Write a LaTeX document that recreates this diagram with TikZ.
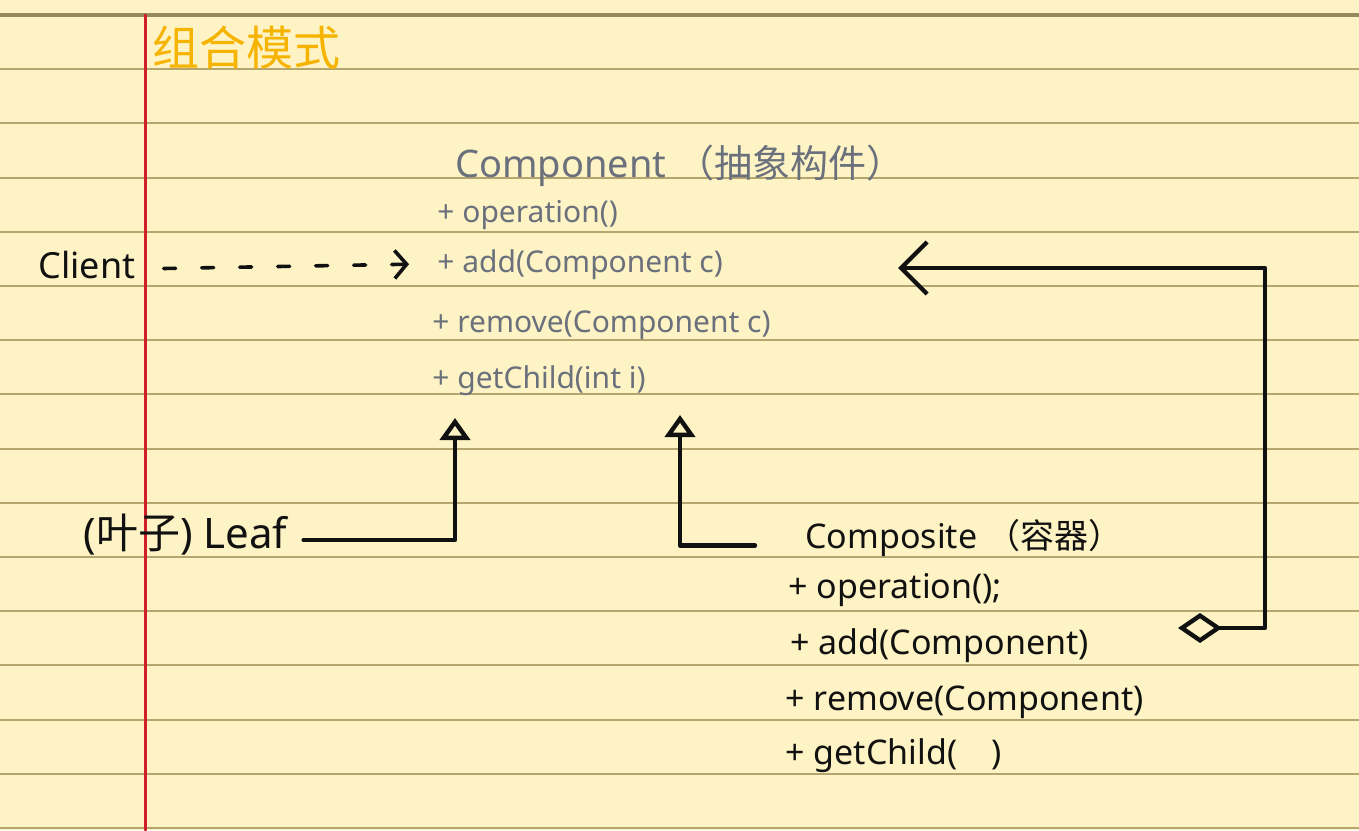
\documentclass[tikz,border=0pt]{standalone}
\usepackage{fontspec}
\setmainfont{Noto Sans}
\newfontfamily\cjk{Noto Sans CJK SC}
\usepackage{xcolor}
\usetikzlibrary{arrows.meta,positioning,calc}
\definecolor{paper}{HTML}{FEF3C4}
\definecolor{ruling}{HTML}{B5A56F}
\definecolor{topruling}{HTML}{958B5F}
\definecolor{margin}{HTML}{D01F28}
\definecolor{ink}{HTML}{111111}
\definecolor{pencil}{HTML}{6A707C}
\definecolor{marker}{HTML}{F6B300}

\begin{document}
\begin{tikzpicture}[x=0.5pt,y=-0.5pt,>=Latex,line cap=round,line join=round]
  \tikzstyle{txt}=[inner sep=0pt,anchor=base west]
  \tikzstyle{op}=[txt,text=pencil,font=\fontsize{15}{17}\selectfont]
  \tikzstyle{kop}=[txt,text=ink,font=\fontsize{17}{19}\selectfont]
  \tikzstyle{link}=[draw=ink,line width=2.2pt]
  \tikzstyle{gen}=[link,-{Triangle[open,length=11pt,width=15pt]}]
  \tikzstyle{aggr}=[link,{Diamond[open,length=22pt,width=15pt]}-{Straight Barb[length=13pt,width=26pt]}]
  % paper
  \fill[paper] (0,0) rectangle (1359,830);
  \useasboundingbox (0,0) rectangle (1359,830);
  \foreach \k in {1,...,15}
    \draw[ruling,line width=1pt] (0,{15+54.2*\k}) -- (1359,{15+54.2*\k});
  \draw[topruling,line width=1.6pt] (0,15) -- (1359,15);
  \draw[margin,line width=1.5pt] (145,15) -- (145,830);
  % title
  \node[txt,text=marker,font=\cjk\fontsize{23.5}{25}\selectfont] (title) at (152,65) {组合模式};
  % abstract component
  \node[txt,text=pencil,font=\fontsize{19}{21}\selectfont] (comp) at (455,177) {Component {\cjk（抽象构件）}};
  \node[op] (cop) at (437,222) {+ operation()};
  \node[op] (cadd) at (437,272) {+ add(Component c)};
  \node[op] (crem) at (432,332) {+ remove(Component c)};
  \node[op] (cget) at (432,388) {+ getChild(int i)};
  % client
  \node[txt,text=ink,font=\fontsize{18}{20}\selectfont] (client) at (38,278) {Client};
  % leaf
  \node[txt,text=ink,font=\fontsize{21}{23}\selectfont] (leaf) at (83,548) {({\cjk 叶子}) Leaf};
  % composite
  \node[kop] (composite) at (805,548) {Composite {\cjk（容器）}};
  \node[kop] (kop) at (788,598) {+ operation();};
  \node[kop] (kadd) at (790,654) {+ add(Component)};
  \node[kop] (krem) at (785,710) {+ remove(Component)};
  \node[kop] (kget) at (785,764) {+ getChild(\quad)};
  % connectors
  \coordinate (tri1) at (455,418);
  \coordinate (tri2) at (680,415);
  \coordinate (agg) at (1178,628);
  \coordinate (ctarget) at (898,268);
  \draw[link,line width=1.8pt,dash pattern=on 6pt off 13pt,-{Straight Barb[length=6pt,width=14pt]}]
    ([xshift=14pt,yshift=-2pt]client.east) -- ([xshift=-14pt]cadd.west);
  \draw[gen] ([xshift=8pt,yshift=-3pt]leaf.east) -| (tri1);
  \draw[gen] ([xshift=-25pt,yshift=-4pt]composite.west) -| (tri2);
  \draw[aggr] (agg) -- (1265,628) |- (ctarget);
\end{tikzpicture}
\end{document}
